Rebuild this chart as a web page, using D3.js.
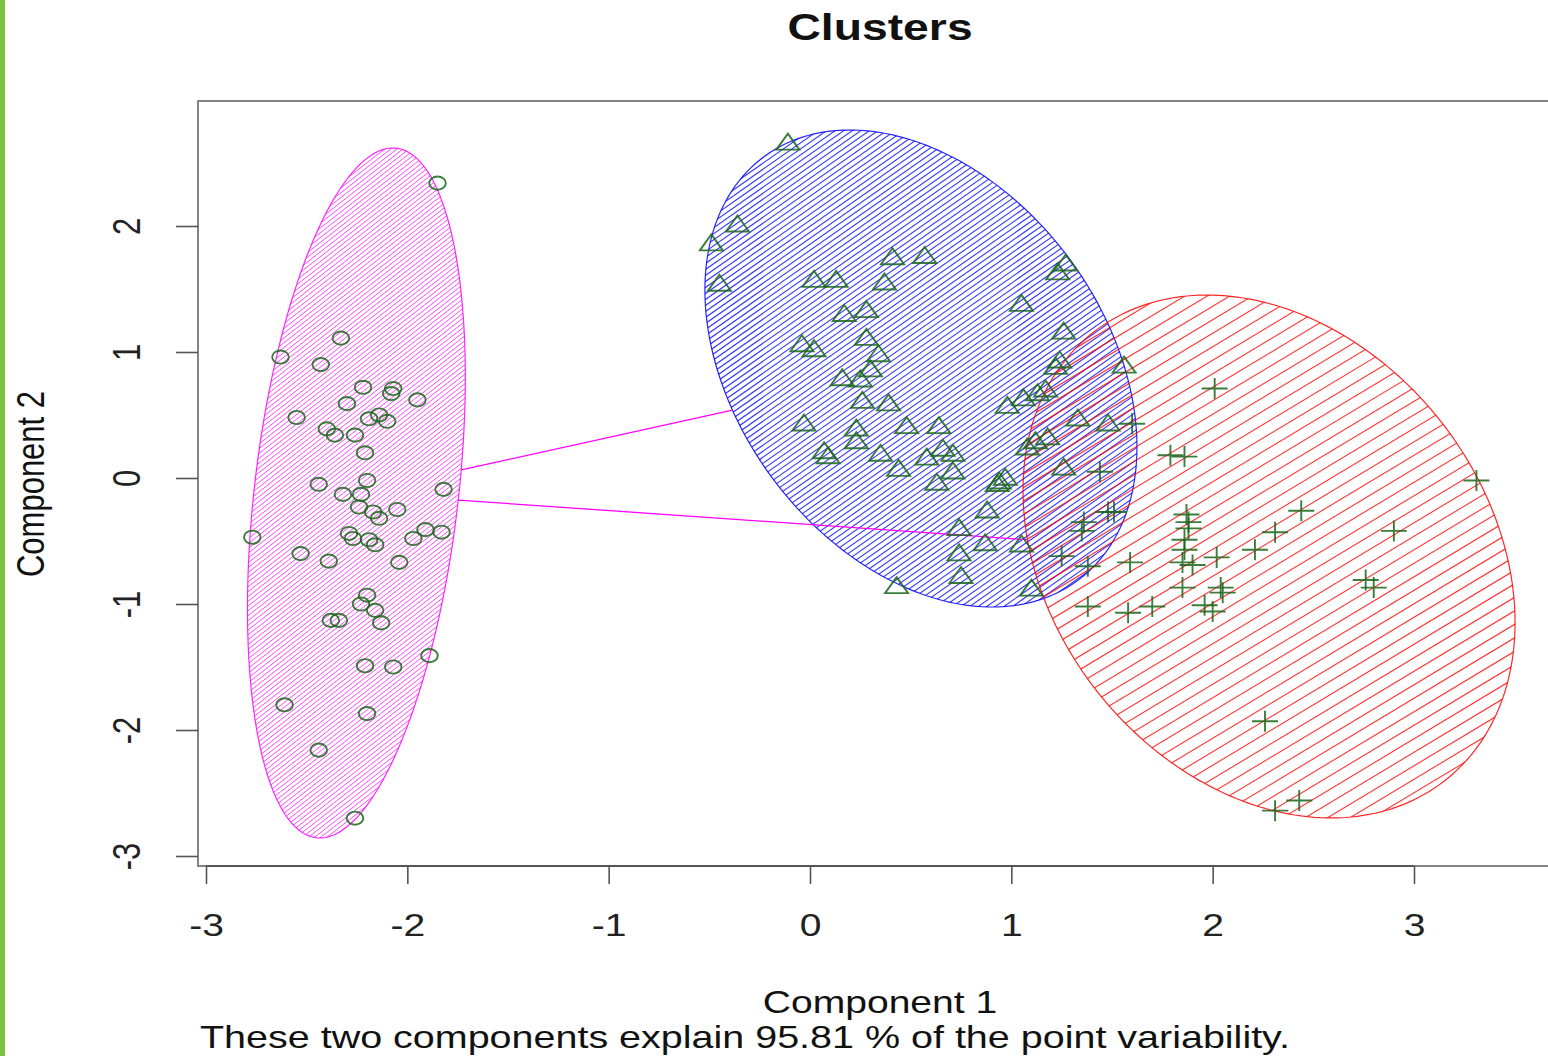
<!DOCTYPE html>
<html>
<head>
<meta charset="utf-8">
<script src="https://cdn.jsdelivr.net/npm/d3@7"></script>
<style>
  body { margin: 0; background: #fff; }
  svg { display: block; font-family: "Liberation Sans", Arial, sans-serif; }
</style>
</head>
<body>
<svg id="chart"></svg>
<script>
const width = 1548;
const height = 1056;
const stretch = 1.26; // the picture is wider than tall, text is stretched too

const title = 'Clusters';
const xLabel = 'Component 1';
const yLabel = 'Component 2';
const subLabel = 'These two components explain 95.81 % of the point variability.';
const xTicks = [-3, -2, -1, 0, 1, 2, 3];
const yTicks = [-3, -2, -1, 0, 1, 2];

// cluster ellipses: centre, half extent in x / y, correlation
const clusterColors = ['#ff00ff', '#0000ff', '#ff0000'];
const clusterCenters = [[-2.253, -0.119], [0.551, 0.869], [2.280, -0.623]];
const clusterSpread = [[0.541, 2.738], [1.073, 1.893], [1.222, 2.075]];
const clusterRho = [0.335, -0.329, -0.252];

const circlePts = [[-1.85,2.34],[-2.33,1.11],[-2.63,0.96],[-2.43,0.90],[-2.22,0.72],[-2.07,0.71],[-2.08,0.67],[-1.95,0.62],[-2.30,0.59],[-2.55,0.48],[-2.19,0.47],[-2.14,0.50],[-2.10,0.45],[-2.40,0.39],[-2.36,0.34],[-2.26,0.34],[-2.21,0.20],[-2.44,-0.05],[-2.20,-0.02],[-2.32,-0.13],[-2.23,-0.13],[-1.82,-0.09],[-2.24,-0.23],[-2.05,-0.25],[-2.17,-0.27],[-2.14,-0.32],[-2.77,-0.47],[-2.29,-0.44],[-2.27,-0.48],[-2.19,-0.49],[-2.16,-0.53],[-1.97,-0.48],[-1.91,-0.41],[-1.83,-0.43],[-2.53,-0.60],[-2.39,-0.66],[-2.04,-0.67],[-2.20,-0.93],[-2.23,-1.00],[-2.16,-1.05],[-2.13,-1.15],[-2.38,-1.13],[-2.34,-1.13],[-2.21,-1.49],[-2.07,-1.50],[-1.89,-1.41],[-2.61,-1.80],[-2.20,-1.87],[-2.44,-2.16],[-2.26,-2.70]];

const trianglePts = [[-0.11,2.67],[-0.36,2.02],[-0.49,1.87],[-0.45,1.55],[0.41,1.76],[0.57,1.77],[0.02,1.58],[0.13,1.58],[0.37,1.56],[0.17,1.31],[0.28,1.34],[0.28,1.12],[0.34,0.99],[-0.04,1.07],[0.02,1.03],[0.30,0.87],[0.16,0.80],[0.25,0.79],[0.26,0.62],[0.39,0.60],[-0.03,0.44],[0.23,0.40],[0.48,0.42],[0.64,0.42],[0.23,0.30],[0.07,0.22],[0.09,0.18],[0.35,0.20],[0.58,0.17],[0.66,0.24],[0.71,0.20],[0.44,0.08],[0.71,0.06],[0.63,-0.03],[0.74,-0.39],[0.74,-0.59],[0.75,-0.77],[0.43,-0.85],[1.27,1.71],[1.23,1.64],[1.05,1.39],[1.26,1.17],[1.24,0.94],[1.22,0.89],[1.56,0.90],[1.17,0.71],[1.13,0.68],[1.06,0.64],[0.98,0.58],[1.33,0.48],[1.48,0.44],[1.18,0.33],[1.12,0.30],[1.08,0.25],[1.26,0.09],[0.94,-0.02],[0.97,0.01],[0.93,-0.04],[0.88,-0.25],[0.87,-0.51],[1.05,-0.52],[1.10,-0.87]];

const crossPts = [[2.01,0.71],[1.60,0.43],[1.79,0.18],[1.86,0.17],[1.44,0.05],[1.48,-0.27],[1.51,-0.27],[1.36,-0.35],[1.35,-0.42],[1.87,-0.29],[1.88,-0.35],[1.88,-0.40],[2.44,-0.26],[2.31,-0.43],[2.21,-0.57],[2.02,-0.63],[1.86,-0.57],[1.85,-0.67],[1.90,-0.69],[1.25,-0.62],[1.38,-0.70],[1.59,-0.67],[1.85,-0.87],[2.04,-0.87],[2.05,-0.91],[1.38,-1.02],[1.58,-1.07],[1.70,-1.02],[1.96,-1.01],[2.00,-1.06],[3.31,-0.02],[2.90,-0.42],[2.76,-0.81],[2.80,-0.87],[2.26,-1.93],[2.43,-2.56],[2.31,-2.64],[1.86,-0.49]];

// shading: vertical distance between hatch lines (px), line width, angle
const shadeGap = [4.8, 6.0, 13.5];
const shadeWidth = [0.9, 1.1, 1.1];
const shadeAngle = [38, 35, 31];

const box = { left: 198, top: 101, bottom: 866, right: 1575 };

const x = d3.scaleLinear().domain([-3, 3]).range([206, 1414]);
const y = d3.scaleLinear().domain([-3, 2]).range([856, 226]);

const svg = d3.select('#chart').attr('width', width).attr('height', height);

// green strip on the left edge
svg.append('rect').attr('x', 0).attr('y', 0).attr('width', 5).attr('height', height).attr('fill', '#7dc242');

const defs = svg.append('defs');
defs.append('clipPath').attr('id', 'plotclip')
  .append('rect').attr('x', box.left).attr('y', box.top)
  .attr('width', box.right - box.left).attr('height', box.bottom - box.top);

const plot = svg.append('g').attr('clip-path', 'url(#plotclip)');

const ellipsePoints = i => {
  const [cx, cy] = clusterCenters[i];
  const [rx, ry] = clusterSpread[i];
  const r = clusterRho[i];
  return d3.range(0, 360, 1.5).map(deg => {
    const t = deg * Math.PI / 180;
    const px = cx + rx * Math.cos(t);
    const py = cy + r * ry * Math.cos(t) + ry * Math.sqrt(1 - r * r) * Math.sin(t);
    return [x(px), y(py)];
  });
};
const line = d3.line().curve(d3.curveLinearClosed);

clusterColors.forEach((col, i) => {
  const pts = ellipsePoints(i);
  defs.append('clipPath').attr('id', 'ell' + i).append('path').attr('d', line(pts));

  const c = [x(clusterCenters[i][0]), y(clusterCenters[i][1])];
  const rad = d3.max(pts, p => Math.hypot(p[0] - c[0], p[1] - c[1])) + 5;
  const a = shadeAngle[i] * Math.PI / 180;
  const dir = [Math.cos(a), -Math.sin(a)];
  const nrm = [Math.sin(a), Math.cos(a)];
  const step = shadeGap[i] * Math.cos(a);
  const offs = d3.range(-rad, rad, step);

  plot.append('g').attr('clip-path', `url(#ell${i})`)
    .selectAll('line').data(offs).enter().append('line')
    .attr('x1', o => c[0] + nrm[0] * o - dir[0] * rad)
    .attr('y1', o => c[1] + nrm[1] * o - dir[1] * rad)
    .attr('x2', o => c[0] + nrm[0] * o + dir[0] * rad)
    .attr('y2', o => c[1] + nrm[1] * o + dir[1] * rad)
    .attr('stroke', col)
    .attr('stroke-width', shadeWidth[i])
    .attr('stroke-opacity', 0.8);

  plot.append('path').attr('d', line(pts))
    .attr('fill', 'none').attr('stroke', col).attr('stroke-width', 1.2).attr('stroke-opacity', 0.85);
});

// distance segments between the borders of ellipses that do not touch
const invCov = i => {
  const [rx, ry] = clusterSpread[i];
  const sxy = clusterRho[i] * rx * ry;
  const det = rx * rx * ry * ry - sxy * sxy;
  return [[ry * ry / det, -sxy / det], [-sxy / det, rx * rx / det]];
};
const reach = (i, d) => {
  const m = invCov(i);
  const q = d[0] * (m[0][0] * d[0] + m[0][1] * d[1]) + d[1] * (m[1][0] * d[0] + m[1][1] * d[1]);
  return 1 / Math.sqrt(q);
};
for (let i = 0; i < clusterCenters.length; i++) {
  for (let j = i + 1; j < clusterCenters.length; j++) {
    const ci = clusterCenters[i], cj = clusterCenters[j];
    const d = [cj[0] - ci[0], cj[1] - ci[1]];
    const si = reach(i, d), sj = reach(j, d);
    if (si + sj >= 1) continue;
    plot.append('line')
      .attr('x1', x(ci[0] + si * d[0])).attr('y1', y(ci[1] + si * d[1]))
      .attr('x2', x(cj[0] - sj * d[0])).attr('y2', y(cj[1] - sj * d[1]))
      .attr('stroke', '#ff00ff').attr('stroke-width', 1.3);
  }
}

// points
const ptColor = '#1a661a';
const ptStyle = sel => sel.attr('fill', 'none').attr('stroke', ptColor)
  .attr('stroke-width', 1.9).attr('stroke-opacity', 0.85);

plot.selectAll('ellipse.pt').data(circlePts).enter().append('ellipse')
  .attr('class', 'pt')
  .attr('cx', d => x(d[0])).attr('cy', d => y(d[1]))
  .attr('rx', 8.3).attr('ry', 6.6)
  .call(ptStyle);

plot.selectAll('path.tri').data(trianglePts).enter().append('path')
  .attr('class', 'tri')
  .attr('d', 'M0,-8L11.5,8L-11.5,8Z')
  .attr('transform', d => `translate(${x(d[0])},${y(d[1])})`)
  .call(ptStyle);

plot.selectAll('path.cross').data(crossPts).enter().append('path')
  .attr('class', 'cross')
  .attr('d', 'M-13,0H13M0,-10.5V10.5')
  .attr('transform', d => `translate(${x(d[0])},${y(d[1])})`)
  .call(ptStyle);

// frame
svg.append('rect')
  .attr('x', box.left).attr('y', box.top)
  .attr('width', box.right - box.left).attr('height', box.bottom - box.top)
  .attr('fill', 'none').attr('stroke', '#777').attr('stroke-width', 1.8);

const fmt = d => String(d);

// x axis
const gx = svg.append('g').attr('transform', `translate(0,${box.bottom})`)
  .call(d3.axisBottom(x).tickValues(xTicks).tickSize(18).tickFormat(fmt));
gx.select('.domain').remove();
gx.append('line').attr('x1', x(xTicks[0])).attr('x2', x(xTicks[xTicks.length - 1]))
  .attr('stroke', '#555').attr('stroke-width', 1.8);
gx.selectAll('.tick line').attr('stroke', '#555').attr('stroke-width', 1.6);
gx.selectAll('.tick text')
  .attr('y', null).attr('dy', null)
  .attr('transform', `translate(0,70) scale(${stretch},1)`)
  .attr('font-size', 31).attr('fill', '#222')
  .attr('font-family', '"Liberation Sans", Arial, sans-serif');

// y axis
const gy = svg.append('g').attr('transform', `translate(${box.left},0)`)
  .call(d3.axisLeft(y).tickValues(yTicks).tickSize(22).tickFormat(fmt));
gy.select('.domain').remove();
gy.selectAll('.tick line').attr('stroke', '#555').attr('stroke-width', 1.6);
gy.selectAll('.tick text')
  .attr('x', null).attr('dy', null)
  .attr('text-anchor', 'middle')
  .attr('transform', `translate(-58,0) scale(${stretch},1) rotate(-90)`)
  .attr('font-size', 31).attr('fill', '#222')
  .attr('font-family', '"Liberation Sans", Arial, sans-serif');

// labels
svg.append('text')
  .attr('transform', `translate(880,40) scale(${stretch},1)`)
  .attr('text-anchor', 'middle').attr('font-size', 37).attr('font-weight', 'bold')
  .attr('textLength', 147).attr('lengthAdjust', 'spacingAndGlyphs')
  .attr('fill', '#111').text(title);

svg.append('text')
  .attr('transform', `translate(880,1013) scale(${stretch},1)`)
  .attr('text-anchor', 'middle').attr('font-size', 31)
  .attr('textLength', 186).attr('lengthAdjust', 'spacingAndGlyphs')
  .attr('fill', '#111').text(xLabel);

svg.append('text')
  .attr('transform', `translate(200,1048) scale(${stretch},1)`)
  .attr('text-anchor', 'start').attr('font-size', 31)
  .attr('textLength', 865).attr('lengthAdjust', 'spacingAndGlyphs')
  .attr('fill', '#111').text(subLabel);

svg.append('text')
  .attr('transform', `translate(44,484) scale(${stretch},1) rotate(-90)`)
  .attr('text-anchor', 'middle').attr('font-size', 31)
  .attr('fill', '#111').text(yLabel);
</script>
</body>
</html>
